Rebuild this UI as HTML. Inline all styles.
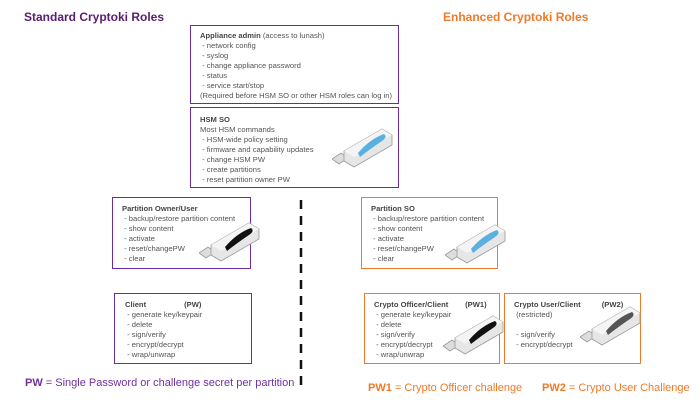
<!DOCTYPE html>
<html><head><meta charset="utf-8"><style>
body{margin:0;width:700px;height:406px;background:#fff;position:relative;overflow:hidden;font-family:"Liberation Sans",sans-serif}
.t{position:absolute;font-weight:bold;font-size:12px;white-space:nowrap}
.b{position:absolute;box-sizing:border-box;border:1.5px solid #6a2ca0;color:#555;font-size:7.6px;line-height:10px;padding:6px 0 0 9px;white-space:pre}
.o{border-color:#f07a2a}
.b b{color:#444}
.f{position:absolute;font-size:11px;white-space:nowrap}
svg.u{position:absolute}
</style></head><body>
<div class="t" style="left:24px;top:10px;color:#5a2070">Standard Cryptoki Roles</div>
<div class="t" style="left:443px;top:10px;color:#f07a2a">Enhanced Cryptoki Roles</div>

<div class="b" style="left:190px;top:25px;width:209px;height:79px;padding-top:5px"><b>Appliance admin</b> (access to lunash)
 - network config
 - syslog
 - change appliance password
 - status
 - service start/stop
(Required before HSM SO or other HSM roles can log in)</div>
<div class="b" style="left:190px;top:107px;width:209px;height:81px;padding-top:7px"><b>HSM SO</b>
Most HSM commands
 - HSM-wide policy setting
 - firmware and capability updates
 - change HSM PW
 - create partitions
 - reset partition owner PW</div>

<div class="b" style="left:112px;top:197px;width:139px;height:72px"><b>Partition Owner/User</b>
 - backup/restore partition content
 - show content
 - activate
 - reset/changePW
 - clear</div>
<div class="b" style="left:114px;top:293px;width:138px;height:71px;padding-left:10px"><b>Client</b>                  <b>(PW)</b>
 - generate key/keypair
 - delete
 - sign/verify
 - encrypt/decrypt
 - wrap/unwrap</div>

<div class="b o" style="left:361px;top:197px;width:137px;height:72px"><b>Partition SO</b>
 - backup/restore partition content
 - show content
 - activate
 - reset/changePW
 - clear</div>
<div class="b o" style="left:364px;top:293px;width:136px;height:71px"><b>Crypto Officer/Client</b>        <b>(PW1)</b>
 - generate key/keypair
 - delete
 - sign/verify
 - encrypt/decrypt
 - wrap/unwrap</div>
<div class="b o" style="left:504px;top:293px;width:137px;height:71px"><b>Crypto User/Client</b>          <b>(PW2)</b>
 (restricted)

 - sign/verify
 - encrypt/decrypt</div>

<svg width="700" height="406" style="position:absolute;left:0;top:0">
<line x1="301" y1="200" x2="301" y2="388" stroke="#111" stroke-width="2.5" stroke-dasharray="9,7"/>
<defs>
<g id="usb">
<polygon points="0,32 9,26 16,31 7,37" fill="#ddd" stroke="#999" stroke-width=".8"/>
<polygon points="12,24 50,2 60,8 60,18 22,40 12,34" fill="#e6e6e6" stroke="#999" stroke-width=".8"/>
<polygon points="12,24 50,2 60,8 22,30" fill="#f4f4f4"/>
</g>
</defs>
</svg>
<svg class="u" style="left:332px;top:127px" width="62" height="44"><use href="#usb"/><path d="M26,26 Q38,12 52,7 Q56,10 50,14 Q38,22 28,30Z" fill="#5ab0e0"/></svg>
<svg class="u" style="left:199px;top:221px" width="62" height="44"><use href="#usb"/><path d="M26,26 Q38,12 52,7 Q56,10 50,14 Q38,22 28,30Z" fill="#111"/></svg>
<svg class="u" style="left:445px;top:223px" width="62" height="44"><use href="#usb"/><path d="M26,26 Q38,12 52,7 Q56,10 50,14 Q38,22 28,30Z" fill="#5ab0e0"/></svg>
<svg class="u" style="left:443px;top:314px" width="62" height="44"><use href="#usb"/><path d="M26,26 Q38,12 52,7 Q56,10 50,14 Q38,22 28,30Z" fill="#111"/></svg>
<svg class="u" style="left:580px;top:305px" width="62" height="44"><use href="#usb"/><path d="M26,26 Q38,12 52,7 Q56,10 50,14 Q38,22 28,30Z" fill="#555"/></svg>

<div class="f" style="left:25px;top:377px;color:#7030a0"><b>PW</b> = Single Password or challenge secret per partition</div>
<div class="f" style="left:368px;top:382px;color:#f07a2a"><b>PW1</b> = Crypto Officer challenge</div>
<div class="f" style="left:542px;top:382px;color:#f07a2a"><b>PW2</b> = Crypto User Challenge</div>
</body></html>
